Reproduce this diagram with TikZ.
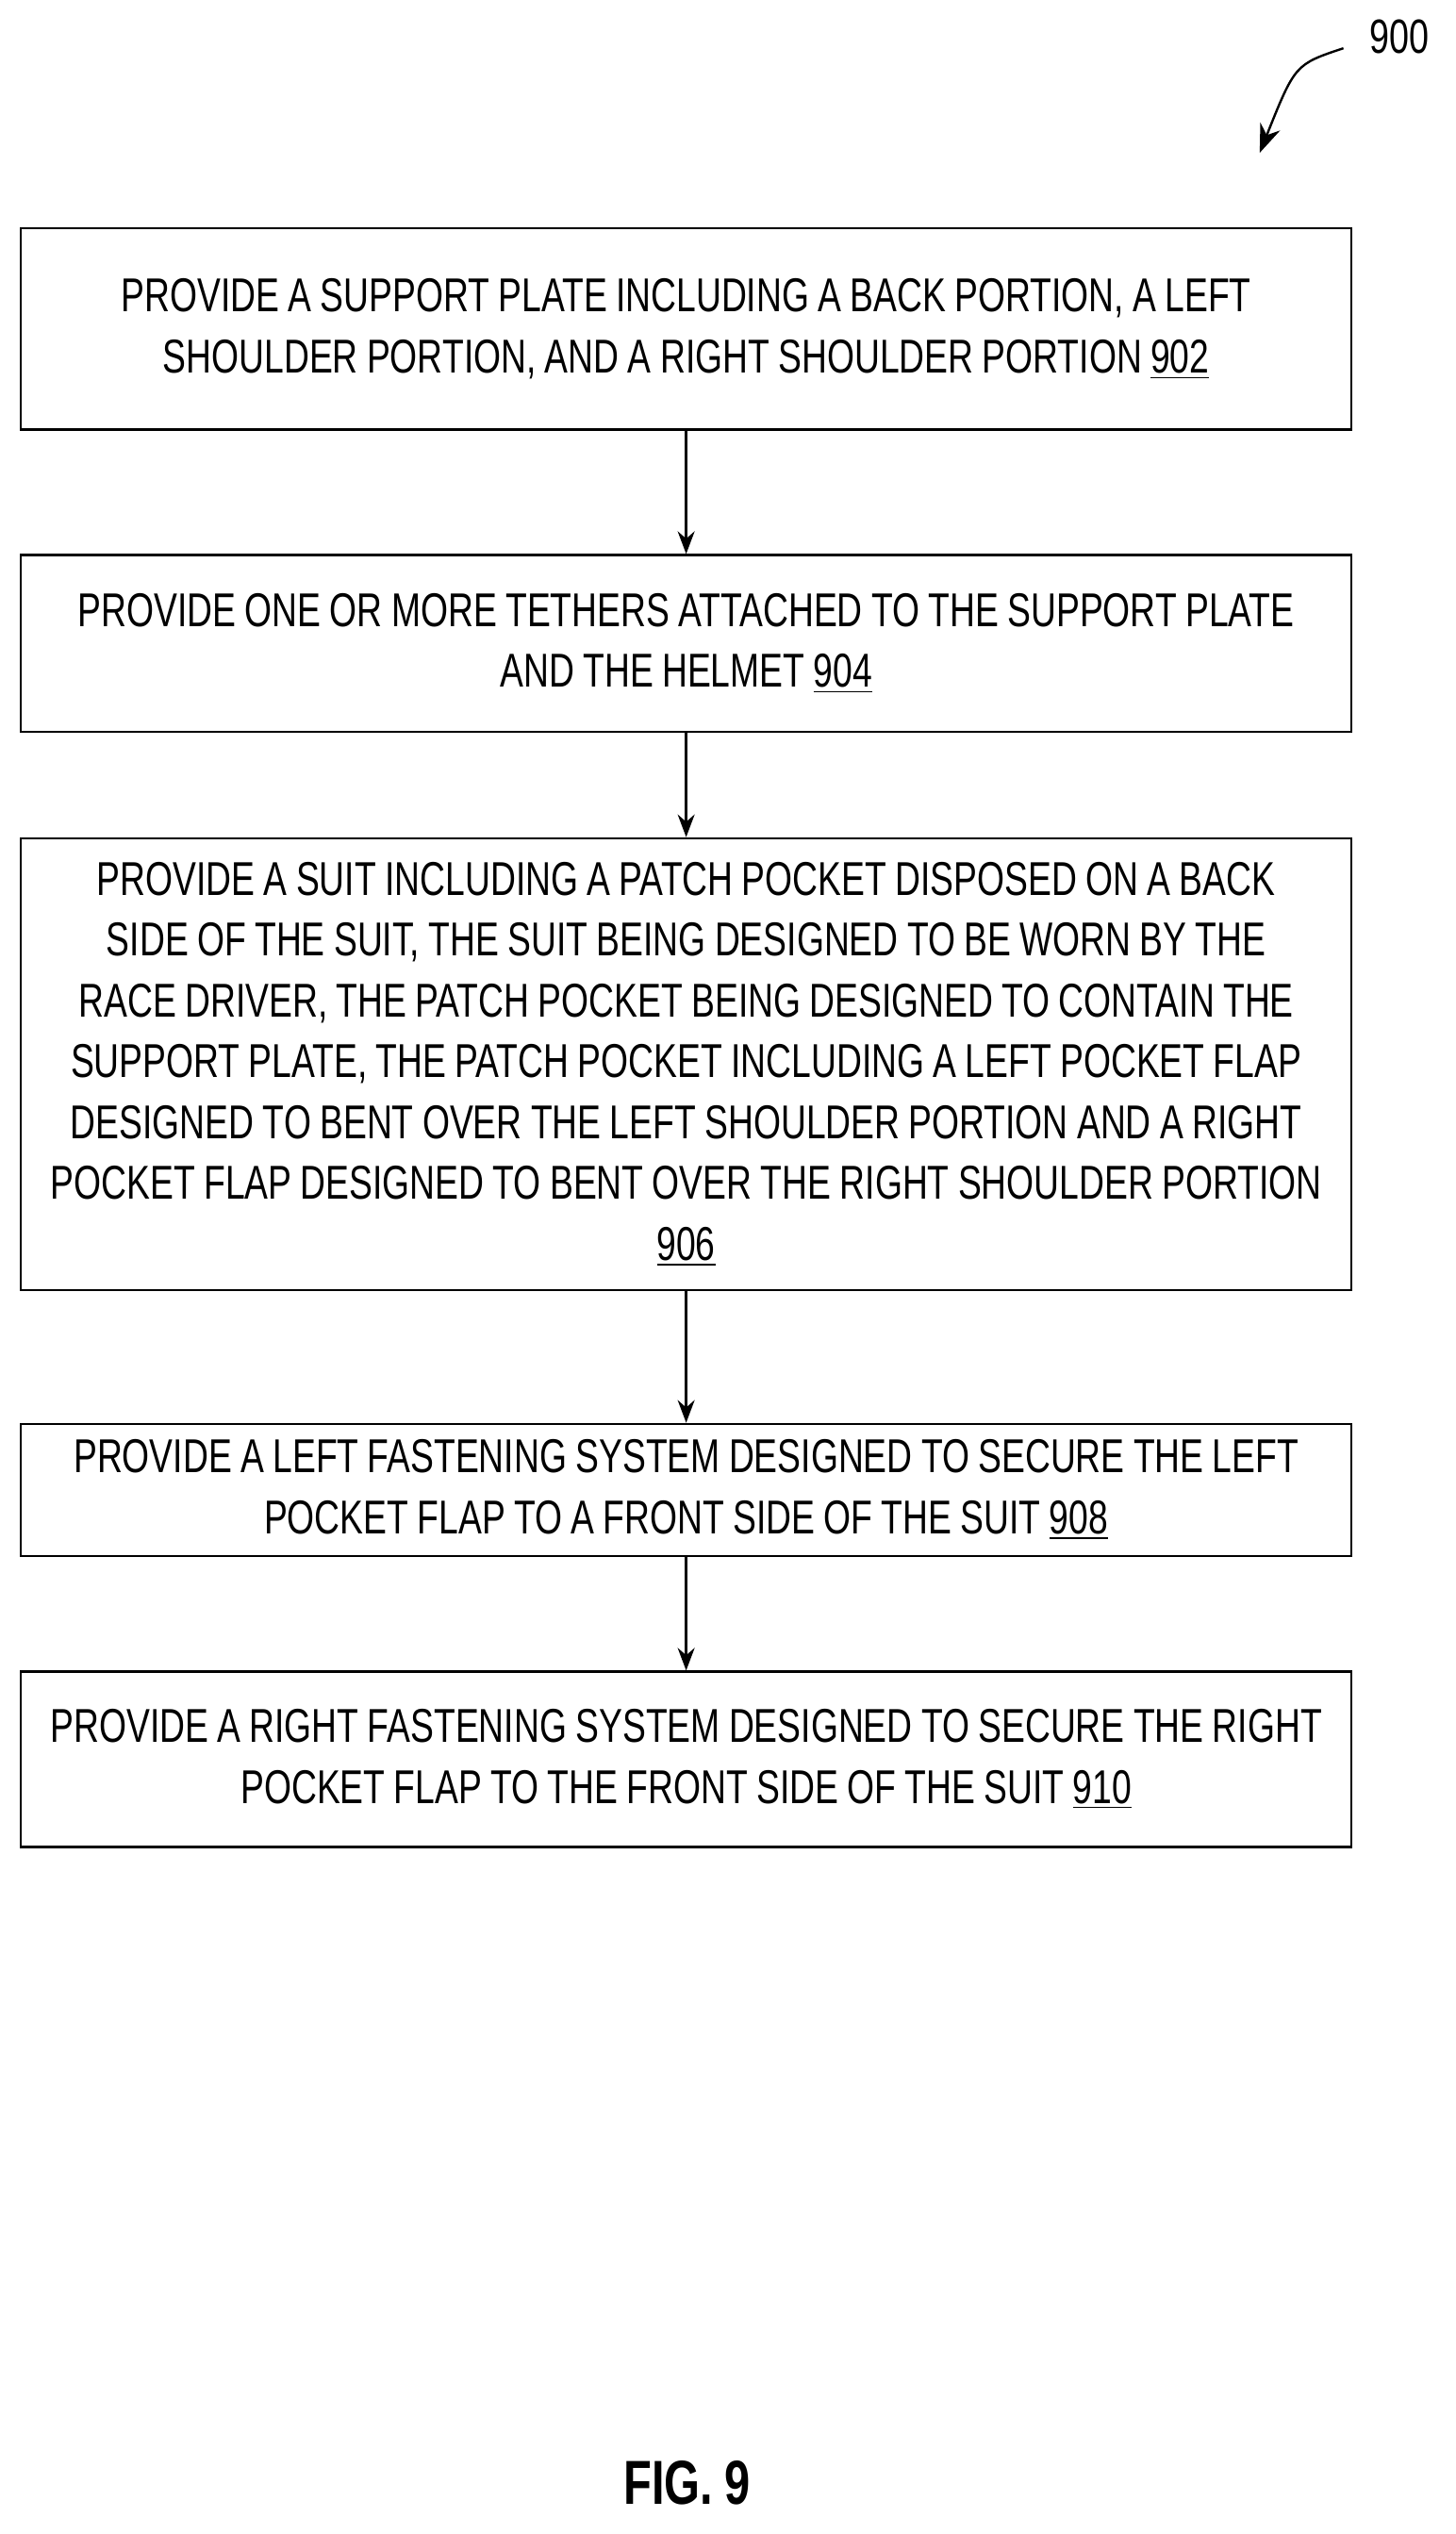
\documentclass[tikz,border=0pt]{standalone}
\usepackage{fontspec}
\setmainfont[FakeStretch=0.74,WordSpace=0.9]{Liberation Sans}
\usetikzlibrary{arrows.meta}

\begin{document}
\begin{tikzpicture}[every node/.style={anchor=center},
    stepbox/.style={draw,thick,minimum width=16.54cm,align=center,font=\fontsize{16.8}{21.5}\selectfont,inner sep=0pt}]
        \useasboundingbox (0,0) rectangle (18.1,-31.5);

        \node[stepbox,minimum height=2.5cm] (plate) at (8.53,-4.09) {PROVIDE A SUPPORT PLATE INCLUDING A BACK PORTION, A LEFT\\ SHOULDER PORTION, AND A RIGHT SHOULDER PORTION \underline{902}};
        \node[stepbox,minimum height=2.2cm] (tethers) at (8.53,-8.0) {PROVIDE ONE OR MORE TETHERS ATTACHED TO THE SUPPORT PLATE\\ AND THE HELMET \underline{904}};
        \node[stepbox,minimum height=5.62cm] (suit) at (8.53,-13.23) {PROVIDE A SUIT INCLUDING A PATCH POCKET DISPOSED ON A BACK\\ SIDE OF THE SUIT, THE SUIT BEING DESIGNED TO BE WORN BY THE\\ RACE DRIVER, THE PATCH POCKET BEING DESIGNED TO CONTAIN THE\\ SUPPORT PLATE, THE PATCH POCKET INCLUDING A LEFT POCKET FLAP\\ DESIGNED TO BENT OVER THE LEFT SHOULDER PORTION AND A RIGHT\\ POCKET FLAP DESIGNED TO BENT OVER THE RIGHT SHOULDER PORTION\\ \underline{906}};
        \node[stepbox,minimum height=1.64cm] (leftfast) at (8.53,-18.52) {PROVIDE A LEFT FASTENING SYSTEM DESIGNED TO SECURE THE LEFT\\ POCKET FLAP TO A FRONT SIDE OF THE SUIT \underline{908}};
        \node[stepbox,minimum height=2.18cm] (rightfast) at (8.53,-21.87) {PROVIDE A RIGHT FASTENING SYSTEM DESIGNED TO SECURE THE RIGHT\\ POCKET FLAP TO THE FRONT SIDE OF THE SUIT \underline{910}};

        \draw[-{Stealth[length=8pt]},thick] (plate) -- (tethers);
        \draw[-{Stealth[length=8pt]},thick] (tethers) -- (suit);
        \draw[-{Stealth[length=8pt]},thick] (suit) -- (leftfast);
        \draw[-{Stealth[length=8pt]},thick] (leftfast) -- (rightfast);

        \node[font=\fontsize{17}{20}\selectfont] (fignum) at (17.4,-0.46) {900};
        \coordinate (figtip) at (15.66,-1.9);
        \draw[-{Stealth[length=10pt]},thick] (16.7,-0.6) .. controls (16.1,-0.8) .. (figtip);

        \node[font=\fontsize{22}{26}\bfseries\selectfont] (figlabel) at (8.54,-30.86) {FIG.\ 9};
    \end{tikzpicture}
\end{document}
